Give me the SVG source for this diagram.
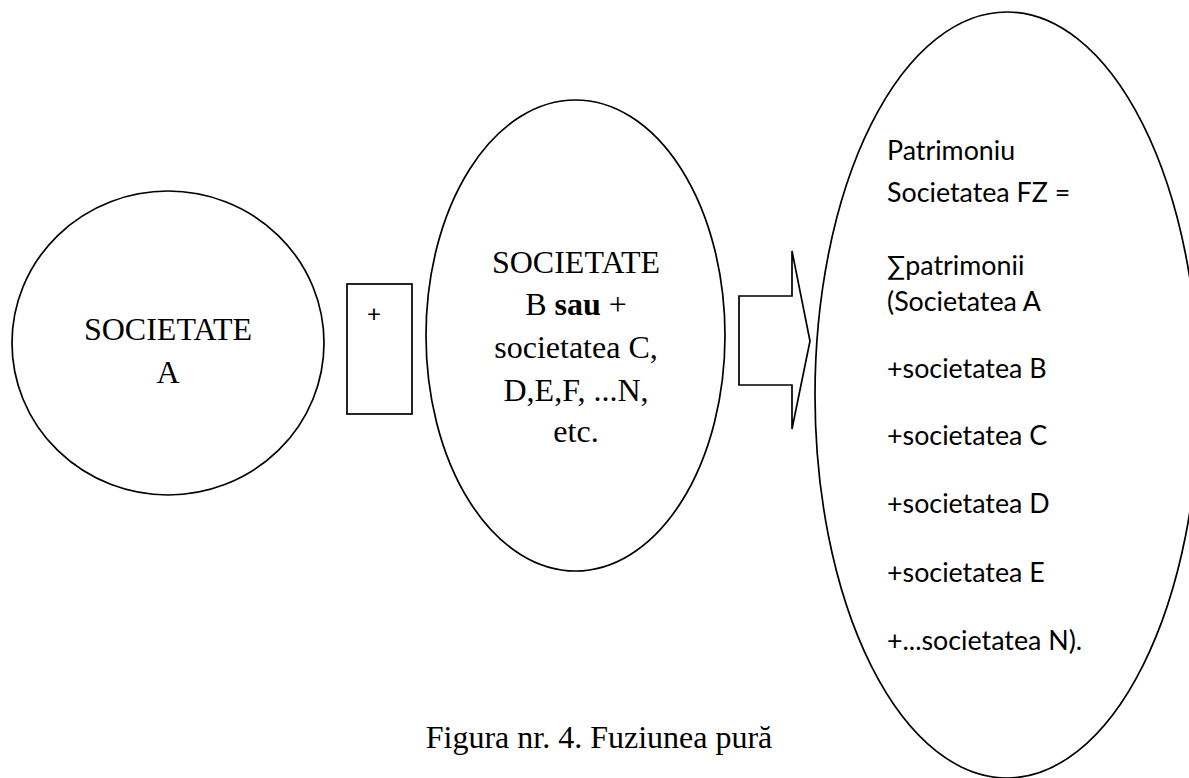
<svg xmlns="http://www.w3.org/2000/svg" width="1189" height="778" viewBox="0 0 1189 778">
<style>
.shape{fill:#fff;stroke:#000;stroke-width:1.7}
.tnr{font-family:"Liberation Serif","Times New Roman",serif;font-size:32px;fill:#000;text-anchor:middle}
.cal{font-family:Lato,"Open Sans",sans-serif;font-size:26.8px;fill:#000}
</style>
<rect width="1189" height="778" fill="#fff"/>
<g id="societate-a">
<ellipse class="shape" cx="168" cy="343" rx="156" ry="152"/>
<text class="tnr" x="168" y="340">SOCIETATE</text>
<text class="tnr" x="168" y="383">A</text>
</g>
<g id="plus-box">
<rect class="shape" x="347" y="284" width="65" height="130"/>
<text class="cal" x="374" y="322" text-anchor="middle" style="font-size:24px">+</text>
</g>
<g id="societate-b">
<ellipse class="shape" cx="575.5" cy="335.5" rx="149.5" ry="235.5"/>
<text class="tnr" x="576" y="273">SOCIETATE</text>
<text class="tnr" x="576" y="315">B <tspan font-weight="bold">sau</tspan> +</text>
<text class="tnr" x="576" y="358">societatea C,</text>
<text class="tnr" x="576" y="401">D,E,F, ...N,</text>
<text class="tnr" x="576" y="442">etc.</text>
</g>
<g id="connectors">
<path class="shape" d="M739,296 L792,296 L792,251 L810,341 L792,429 L792,385 L739,385 Z"/>
</g>
<g id="societate-fz">
<ellipse class="shape" cx="1007" cy="395" rx="192" ry="383"/>
<text class="cal" x="887" y="160">Patrimoniu</text>
<text class="cal" x="887" y="202">Societatea FZ =</text>
<text class="cal" x="887" y="275">∑patrimonii</text>
<text class="cal" x="887" y="311">(Societatea A</text>
<text class="cal" x="887" y="378">+societatea B</text>
<text class="cal" x="887" y="445">+societatea C</text>
<text class="cal" x="887" y="513">+societatea D</text>
<text class="cal" x="887" y="582">+societatea E</text>
<text class="cal" x="887" y="650">+...societatea N).</text>
</g>
<g id="caption">
<text class="tnr" x="599" y="748">Figura nr. 4. Fuziunea pură</text>
</g>
</svg>
